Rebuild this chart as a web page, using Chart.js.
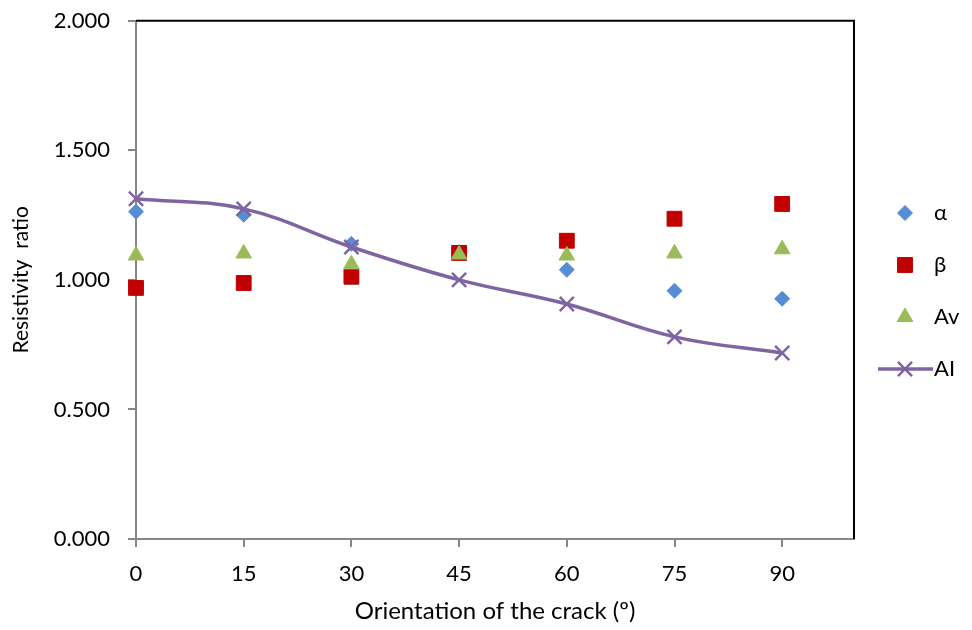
<!DOCTYPE html>
<html>
<head>
<meta charset="utf-8">
<title>Resistivity ratio vs crack orientation</title>
<script src="https://cdn.jsdelivr.net/npm/chart.js@4.4.1/dist/chart.umd.min.js"></script>
<style>
  body { margin: 0; background: #ffffff; }
  #wrap { width: 972px; height: 630px; }
</style>
</head>
<body>
<div id="wrap"><canvas id="chart" width="972" height="630"></canvas></div>
<script>
// data
const angles = [0, 15, 30, 45, 60, 75, 90];
const alphaRatio = [1.263, 1.251, 1.139, 1.108, 1.039, 0.958, 0.927];
const betaRatio = [0.969, 0.988, 1.012, 1.104, 1.151, 1.236, 1.293];
const avRatio = [1.094, 1.102, 1.060, 1.098, 1.094, 1.102, 1.118];
const aiRatio = [1.313, 1.274, 1.127, 1.000, 0.907, 0.780, 0.718];
const seriesNames = ['α', 'β', 'Av', 'AI'];
const xTicks = [0, 15, 30, 45, 60, 75, 90];
const yTicks = [0, 0.5, 1.0, 1.5, 2.0];

const FONT = 'Lato, "Liberation Sans", sans-serif';
const AXIS_GREY = '#868686';

function toPoints(values) {
  return angles.map((a, i) => ({ x: a, y: values[i] }));
}

// plot frame: Excel draws a black box on top and right
const frame = {
  id: 'frame',
  beforeDatasetsDraw(chart) {
    const { ctx, chartArea: a } = chart;
    ctx.save();
    ctx.strokeStyle = '#000000';
    ctx.lineWidth = 2;
    ctx.beginPath();
    ctx.moveTo(a.left, a.top);
    ctx.lineTo(a.right, a.top);
    ctx.lineTo(a.right, a.bottom);
    ctx.stroke();
    ctx.restore();
  }
};

// legend on the right, like the Excel one (line + marker for AI)
const sideLegend = {
  id: 'sideLegend',
  afterDraw(chart) {
    const ctx = chart.ctx;
    const markX = 905, textX = 934, firstY = 213, step = 52;
    ctx.save();
    ctx.font = '22px ' + FONT;
    ctx.textBaseline = 'middle';
    ctx.textAlign = 'left';
    seriesNames.forEach((name, i) => {
      const ds = chart.data.datasets[i];
      const y = firstY + i * step;
      if (ds.showLine) {
        ctx.strokeStyle = ds.borderColor;
        ctx.lineWidth = ds.borderWidth;
        ctx.beginPath();
        ctx.moveTo(878, y);
        ctx.lineTo(933, y);
        ctx.stroke();
      }
      ctx.fillStyle = ds.pointBackgroundColor;
      ctx.strokeStyle = ds.pointBorderColor;
      ctx.lineWidth = ds.pointBorderWidth;
      if (Chart.helpers && Chart.helpers.drawPoint) {
        Chart.helpers.drawPoint(ctx, {
          pointStyle: ds.pointStyle,
          radius: ds.pointRadius,
          rotation: 0,
          borderWidth: ds.pointBorderWidth
        }, markX, y);
      }
      ctx.fillStyle = '#000000';
      ctx.fillText(name, textX, y);
    });
    ctx.restore();
  }
};

function buildChart() {
  const ctx = document.getElementById('chart').getContext('2d');
  new Chart(ctx, {
    type: 'scatter',
    data: {
      datasets: [
        {
          label: seriesNames[0],
          data: toPoints(alphaRatio),
          pointStyle: 'rectRot',
          pointRadius: 7.5,
          pointBorderWidth: 1,
          pointBackgroundColor: '#558ED5',
          pointBorderColor: '#558ED5',
          showLine: false,
          clip: false,
          order: 4
        },
        {
          label: seriesNames[1],
          data: toPoints(betaRatio),
          pointStyle: 'rect',
          pointRadius: 10.5,
          pointBorderWidth: 1,
          pointBackgroundColor: '#C00000',
          pointBorderColor: '#C00000',
          showLine: false,
          clip: false,
          order: 3
        },
        {
          label: seriesNames[2],
          data: toPoints(avRatio),
          pointStyle: 'triangle',
          pointRadius: 9,
          pointBorderWidth: 1,
          pointBackgroundColor: '#9BBB59',
          pointBorderColor: '#9BBB59',
          showLine: false,
          clip: false,
          order: 2
        },
        {
          label: seriesNames[3],
          data: toPoints(aiRatio),
          pointStyle: 'crossRot',
          pointRadius: 10,
          pointBorderWidth: 2.5,
          pointBackgroundColor: '#8064A2',
          pointBorderColor: '#8064A2',
          borderColor: '#8064A2',
          borderWidth: 3.5,
          showLine: true,
          tension: 0.4,
          clip: false,
          order: 1
        }
      ]
    },
    options: {
      responsive: false,
      animation: false,
      layout: { padding: { top: 0, right: 118, left: 0, bottom: 0 } },
      plugins: {
        legend: { display: false },
        tooltip: { enabled: false }
      },
      scales: {
        x: {
          type: 'linear',
          min: 0,
          max: 100,
          afterBuildTicks(scale) {
            scale.ticks = xTicks.map(v => ({ value: v }));
          },
          afterFit(scale) { scale.height = 91; },
          ticks: {
            color: '#000000',
            font: { family: FONT, size: 22 },
            padding: 14,
            maxRotation: 0
          },
          grid: {
            drawOnChartArea: false,
            drawTicks: true,
            tickLength: 8,
            color: AXIS_GREY,
            lineWidth: 2
          },
          border: { color: AXIS_GREY, width: 2 },
          title: {
            display: true,
            text: 'Orientation of the crack (º)',
            color: '#000000',
            font: { family: FONT, size: 24 },
            padding: { top: 0, bottom: 4 }
          }
        },
        y: {
          min: 0,
          max: 2,
          afterBuildTicks(scale) {
            scale.ticks = yTicks.map(v => ({ value: v }));
          },
          afterFit(scale) { scale.width = 136; },
          ticks: {
            color: '#000000',
            // small lineHeight so the top label does not push the plot down
            font: { family: FONT, size: 22, lineHeight: 0.25 },
            padding: 18,
            callback: v => Number(v).toFixed(3)
          },
          grid: {
            drawOnChartArea: false,
            drawTicks: true,
            tickLength: 8,
            color: AXIS_GREY,
            lineWidth: 2
          },
          border: { color: AXIS_GREY, width: 2 },
          title: {
            display: true,
            text: 'Resistivity  ratio',
            color: '#000000',
            font: { family: FONT, size: 21 },
            padding: { top: 9, bottom: 0 }
          }
        }
      }
    },
    plugins: [frame, sideLegend]
  });
}

document.addEventListener('DOMContentLoaded', buildChart);
</script>
</body>
</html>
